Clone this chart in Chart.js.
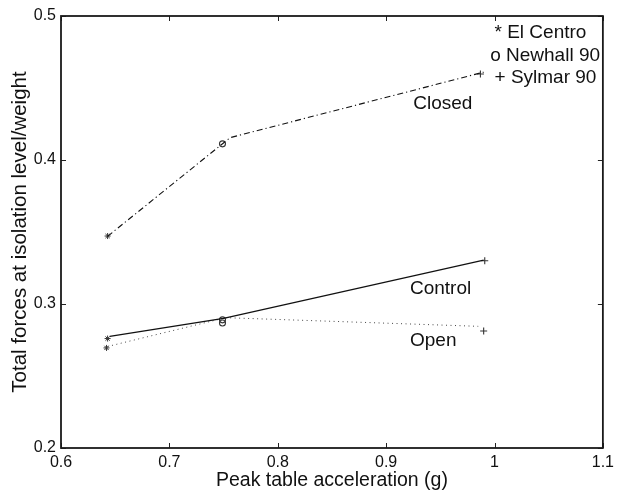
<!DOCTYPE html>
<html><head><meta charset="utf-8">
<script src="https://cdn.jsdelivr.net/npm/chart.js@4/dist/chart.umd.min.js"></script>
<style>html,body{margin:0;padding:0;background:#fff}#wrap{width:619px;height:491px}</style>
</head><body><div id="wrap"><canvas id="c" width="619" height="491"></canvas></div>
<script>
// Axis ticks
const xTickValues = [0.6, 0.7, 0.8, 0.9, 1.0, 1.1];
const yTickValues = [0.2, 0.3, 0.4, 0.5];

// Lines (configuration)
const closedX  = [0.643, 0.756, 0.990];
const closedY  = [0.347, 0.4155, 0.461];
const controlX = [0.645, 0.750, 0.990];
const controlY = [0.2775, 0.290, 0.3305];
const openX    = [0.643, 0.752, 0.985];
const openY    = [0.2705, 0.2905, 0.2845];

// Markers per earthquake record (Closed, Control, Open)
const elCentroX = [0.643, 0.643, 0.642];
const elCentroY = [0.3472, 0.2760, 0.2695];
const newhallX  = [0.749, 0.749, 0.749];
const newhallY  = [0.4112, 0.2890, 0.2868];
const sylmarX   = [0.987, 0.991, 0.990];
const sylmarY   = [0.4597, 0.3300, 0.2813];

// Text annotations
const annoText = ["Closed", "Control", "Open", "* El Centro", "o Newhall 90", "+ Sylmar 90"];
const annoX    = [0.925, 0.922, 0.922, 1.000, 0.996, 1.000];
const annoY    = [0.4390, 0.3105, 0.2745, 0.4885, 0.4727, 0.4570];

const pts = (xs, ys) => xs.map((x, i) => ({x: x, y: ys[i]}));
const FONT = "'Liberation Sans', Arial, Helvetica, sans-serif";

const innerTicks = {
  id: 'innerTicks',
  afterDraw(chart) {
    const {ctx, chartArea: a, scales: {x, y}} = chart;
    ctx.save();
    ctx.strokeStyle = '#222';
    ctx.lineWidth = 1;
    const L = 5;
    xTickValues.forEach(v => {
      const px = Math.round(x.getPixelForValue(v)) + 0.5;
      ctx.beginPath(); ctx.moveTo(px, a.bottom); ctx.lineTo(px, a.bottom - L);
      ctx.moveTo(px, a.top); ctx.lineTo(px, a.top + L); ctx.stroke();
    });
    yTickValues.forEach(v => {
      const py = Math.round(y.getPixelForValue(v)) + 0.5;
      ctx.beginPath(); ctx.moveTo(a.left, py); ctx.lineTo(a.left + L, py);
      ctx.moveTo(a.right, py); ctx.lineTo(a.right - L, py); ctx.stroke();
    });
    ctx.lineWidth = 1.8;
    ctx.strokeStyle = '#1a1a1a';
    ctx.strokeRect(a.left, a.top, a.right - a.left, a.bottom - a.top);
    // annotations
    ctx.fillStyle = '#111';
    ctx.font = '19px ' + FONT;
    ctx.textBaseline = 'middle';
    ctx.textAlign = 'left';
    annoText.forEach((t, i) => {
      ctx.fillText(t, x.getPixelForValue(annoX[i]), y.getPixelForValue(annoY[i]));
    });
    ctx.restore();
  }
};

new Chart(document.getElementById('c'), {
  type: 'scatter',
  data: {
    datasets: [
      {label: 'Closed', data: pts(closedX, closedY), showLine: true, borderColor: '#111', borderWidth: 1.1, borderDash: [6, 3, 1.2, 3], pointRadius: 0},
      {label: 'Control', data: pts(controlX, controlY), showLine: true, borderColor: '#111', borderWidth: 1.3, pointRadius: 0},
      {label: 'Open', data: pts(openX, openY), showLine: true, borderColor: '#444', borderWidth: 1, borderDash: [1, 3.5], pointRadius: 0},
      {label: 'El Centro', data: pts(elCentroX, elCentroY), pointStyle: 'star', pointRadius: 3, borderColor: '#333', borderWidth: 1, backgroundColor: 'transparent'},
      {label: 'Newhall 90', data: pts(newhallX, newhallY), pointStyle: 'circle', pointRadius: 3, borderColor: '#333', borderWidth: 1.1, backgroundColor: 'transparent'},
      {label: 'Sylmar 90', data: pts(sylmarX, sylmarY), pointStyle: 'cross', pointRadius: 3.5, borderColor: '#333', borderWidth: 1.1, backgroundColor: 'transparent'}
    ]
  },
  options: {
    responsive: false,
    animation: false,
    devicePixelRatio: 1,
    layout: {padding: {top: 16, right: 11, left: 0, bottom: 0}},
    plugins: {legend: {display: false}, tooltip: {enabled: false}},
    scales: {
      x: {
        type: 'linear', min: 0.6, max: 1.1,
        afterBuildTicks: s => { s.ticks = xTickValues.map(v => ({value: v})); },
        afterFit: s => { s.height = 43; },
        grid: {display: false, drawTicks: false},
        border: {display: false},
        ticks: {color: '#111', font: {family: FONT, size: 16}, padding: 5, maxRotation: 0,
                callback: v => String(Math.round(v * 10) / 10)},
        title: {display: true, text: 'Peak table acceleration (g)', color: '#111',
                font: {family: FONT, size: 19.5}, padding: {top: 0, bottom: -1}}
      },
      y: {
        type: 'linear', min: 0.2, max: 0.5,
        afterBuildTicks: s => { s.ticks = yTickValues.map(v => ({value: v})); },
        afterFit: s => { s.width = 61; },
        grid: {display: false, drawTicks: false},
        border: {display: false},
        ticks: {color: '#111', font: {family: FONT, size: 16}, padding: 5,
                callback: v => String(Math.round(v * 10) / 10)},
        title: {display: true, text: 'Total forces at isolation level/weight', color: '#111',
                font: {family: FONT, size: 20.5}, padding: {top: 8, bottom: 0}}
      }
    }
  },
  plugins: [innerTicks]
});
</script>
</body></html>
